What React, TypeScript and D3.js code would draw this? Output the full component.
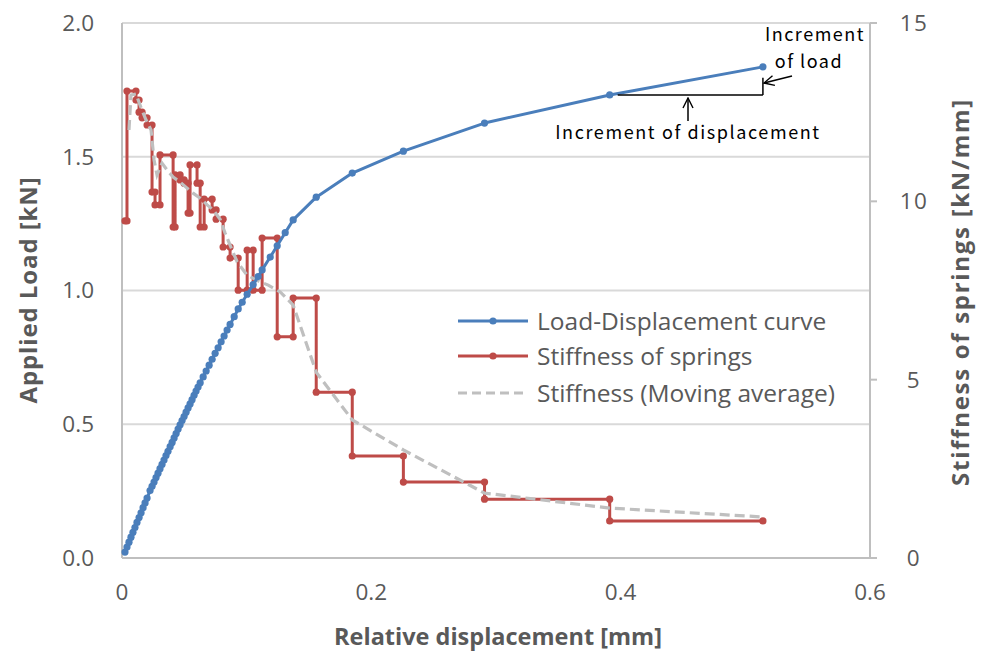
import React from "react";
import * as d3 from "d3";

// Load–displacement curve (mm, kN)
const loadDisp = [0.0024, 0.0040, 0.0056, 0.0072, 0.0088, 0.0104, 0.0120, 0.0137, 0.0153, 0.0169, 0.0185, 0.0201, 0.0225, 0.0241, 0.0257, 0.0273, 0.0289, 0.0305, 0.0321, 0.0337, 0.0353, 0.0369, 0.0386, 0.0402, 0.0418, 0.0434, 0.0450, 0.0466, 0.0482, 0.0498, 0.0514, 0.0530, 0.0546, 0.0562, 0.0578, 0.0594, 0.0610, 0.0627, 0.0651, 0.0675, 0.0699, 0.0723, 0.0747, 0.0771, 0.0795, 0.0819, 0.0843, 0.0867, 0.0900, 0.0932, 0.0964, 0.1004, 0.1052, 0.1092, 0.1124, 0.1189, 0.1245, 0.1309, 0.1373, 0.1558, 0.1847, 0.2257, 0.2908, 0.3912, 0.5141];
const loadVal = [0.022, 0.041, 0.059, 0.078, 0.096, 0.114, 0.133, 0.151, 0.169, 0.188, 0.206, 0.224, 0.252, 0.268, 0.284, 0.301, 0.317, 0.334, 0.350, 0.366, 0.383, 0.399, 0.416, 0.432, 0.449, 0.465, 0.482, 0.498, 0.514, 0.529, 0.545, 0.561, 0.576, 0.592, 0.608, 0.624, 0.639, 0.655, 0.677, 0.699, 0.721, 0.743, 0.765, 0.786, 0.808, 0.830, 0.852, 0.873, 0.902, 0.931, 0.956, 0.986, 1.022, 1.052, 1.077, 1.125, 1.167, 1.216, 1.264, 1.349, 1.439, 1.521, 1.626, 1.731, 1.836];

// Spring stiffness per displacement interval (kN/mm)
const stiffBreaks = [0.0024, 0.0040, 0.0112, 0.0137, 0.0161, 0.0201, 0.0241, 0.0265, 0.0305, 0.0410, 0.0426, 0.0466, 0.0498, 0.0530, 0.0546, 0.0602, 0.0627, 0.0659, 0.0723, 0.0755, 0.0811, 0.0867, 0.0932, 0.1004, 0.1052, 0.1124, 0.1245, 0.1373, 0.1558, 0.1847, 0.2257, 0.2908, 0.3912, 0.5141];
const stiffVals = [9.45, 13.09, 12.84, 12.50, 12.34, 12.14, 10.26, 9.90, 11.30, 9.28, 10.74, 10.60, 10.51, 9.67, 11.02, 10.51, 9.28, 10.06, 9.76, 9.50, 8.72, 8.41, 7.51, 8.63, 7.51, 8.97, 6.20, 7.29, 4.65, 2.86, 2.13, 1.65, 1.04];

// Moving average of the stiffness
const avgDisp = [0.0056, 0.0072, 0.0112, 0.0153, 0.0193, 0.0233, 0.0257, 0.0281, 0.0321, 0.0361, 0.0410, 0.0466, 0.0522, 0.0570, 0.0627, 0.0683, 0.0731, 0.0787, 0.0827, 0.0867, 0.0924, 0.1004, 0.1092, 0.1173, 0.1269, 0.1373, 0.1558, 0.1847, 0.2257, 0.2908, 0.3912, 0.5141];
const avgVal = [12.00, 12.98, 13.01, 12.62, 12.28, 12.00, 11.16, 10.74, 11.07, 10.88, 10.68, 10.54, 10.37, 10.23, 10.09, 9.90, 9.76, 9.50, 9.11, 8.77, 8.30, 7.93, 7.77, 7.65, 7.46, 7.09, 5.21, 3.87, 3.03, 1.82, 1.40, 1.15];

const xTicks = [0, 0.2, 0.4, 0.6];
const xTickLabels = ["0", "0.2", "0.4", "0.6"];
const yLeftTicks = [0, 0.5, 1.0, 1.5, 2.0];
const yRightTicks = [0, 5, 10, 15];

const BLUE = "#4A7EBB";
const RED = "#BE4B48";
const GRAY = "#BFBFBF";
const TEXT = "#595959";
const FONT = "'Open Sans', 'Noto Sans', sans-serif";
const NOTE_FONT = "'Noto Sans CJK JP', 'Noto Sans', sans-serif";

export default function App() {
  const W = 982, H = 652;
  const left = 122, right = 870, top = 23, bottom = 558;
  const x = d3.scaleLinear().domain([0, 0.6]).range([left, right]);
  const yL = d3.scaleLinear().domain([0, 2]).range([bottom, top]);
  const yR = d3.scaleLinear().domain([0, 15]).range([bottom, top]);

  const loadPts: [number, number][] = loadDisp.map((d, i) => [x(d), yL(loadVal[i])]);
  const stiffPts: [number, number][] = [];
  stiffVals.forEach((k, i) => {
    stiffPts.push([x(stiffBreaks[i]), yR(k)]);
    stiffPts.push([x(stiffBreaks[i + 1]), yR(k)]);
  });
  const avgPts: [number, number][] = avgDisp.map((d, i) => [x(d), yR(avgVal[i])]);
  const line = d3.line();

  const legend = [
    { label: "Load-Displacement curve", color: BLUE, dash: null, marker: true, y: 321 },
    { label: "Stiffness of springs", color: RED, dash: null, marker: true, y: 356 },
    { label: "Stiffness (Moving average)", color: GRAY, dash: "9,5", marker: false, y: 393 },
  ];

  // Annotation geometry anchored on the last two load points
  const n = loadDisp.length;
  const pA = loadPts[n - 2];
  const pB = loadPts[n - 1];

  return (
    <svg width={W} height={H} style={{ position: "absolute", left: 0, top: 0, background: "#fff" }}>
      <defs>
        <marker id="open-arrow" viewBox="0 0 12 12" refX="11" refY="6" markerWidth="12" markerHeight="12" markerUnits="userSpaceOnUse" orient="auto">
          <path d="M1,1 L11,6 L1,11" fill="none" stroke="#000" strokeWidth={1.4} />
        </marker>
      </defs>

      {/* gridlines */}
      {yLeftTicks.filter((t) => t > 0).map((t) => (
        <line key={t} x1={left} x2={right} y1={yL(t)} y2={yL(t)} stroke="#D9D9D9" strokeWidth={2} />
      ))}
      {/* axes */}
      <line x1={left} x2={left} y1={top} y2={bottom} stroke={GRAY} strokeWidth={2} />
      <line x1={left} x2={right} y1={bottom} y2={bottom} stroke={GRAY} strokeWidth={2} />
      <line x1={right} x2={right} y1={top} y2={bottom} stroke={GRAY} strokeWidth={2} />
      {yRightTicks.map((t) => (
        <line key={t} x1={right} x2={right + 7} y1={yR(t)} y2={yR(t)} stroke={GRAY} strokeWidth={2} />
      ))}

      {/* tick labels */}
      {yLeftTicks.map((t) => (
        <text key={t} x={94} y={yL(t)} dy="0.35em" textAnchor="end" fontFamily={FONT} fontSize={22.5} fill={TEXT}>
          {t.toFixed(1)}
        </text>
      ))}
      {yRightTicks.map((t) => (
        <text key={t} x={914} y={yR(t)} dy="0.35em" textAnchor="middle" fontFamily={FONT} fontSize={22.5} letterSpacing={1.5} fill={TEXT}>
          {t}
        </text>
      ))}
      {xTicks.map((t, i) => (
        <text key={t} x={x(t)} y={592} dy="0.35em" textAnchor="middle" fontFamily={FONT} fontSize={22.5} fill={TEXT}>
          {xTickLabels[i]}
        </text>
      ))}

      {/* axis titles */}
      <text x={498} y={637} dy="0.35em" textAnchor="middle" fontFamily={FONT} fontWeight="bold" fontSize={23.5} fill={TEXT}>
        Relative displacement [mm]
      </text>
      <text transform="translate(29,290) rotate(-90)" dy="0.35em" textAnchor="middle" fontFamily={FONT} fontWeight="bold" fontSize={24} letterSpacing={0.9} fill={TEXT}>
        Applied Load [kN]
      </text>
      <text transform="translate(961,292) rotate(-90)" dy="0.35em" textAnchor="middle" fontFamily={FONT} fontWeight="bold" fontSize={24} letterSpacing={1.7} fill={TEXT}>
        Stiffness of springs [kN/mm]
      </text>

      {/* stiffness steps */}
      <path d={line(stiffPts) || ""} fill="none" stroke={RED} strokeWidth={3} strokeLinejoin="round" />
      {stiffPts.map((p, i) => (
        <circle key={i} cx={p[0]} cy={p[1]} r={3.6} fill={RED} />
      ))}

      {/* moving average */}
      <path d={line(avgPts) || ""} fill="none" stroke={GRAY} strokeWidth={3.2} strokeDasharray="10,5" />

      {/* load-displacement */}
      <path d={line(loadPts) || ""} fill="none" stroke={BLUE} strokeWidth={3} strokeLinejoin="round" />
      {loadPts.map((p, i) => (
        <circle key={i} cx={p[0]} cy={p[1]} r={3.6} fill={BLUE} />
      ))}

      {/* increment annotation */}
      <line x1={pA[0] + 8} x2={pB[0]} y1={pA[1]} y2={pA[1]} stroke="#000" strokeWidth={1.5} />
      <line x1={pB[0]} x2={pB[0]} y1={pB[1] + 11} y2={pA[1]} stroke="#000" strokeWidth={1.5} />
      <line x1={792} y1={76} x2={764} y2={83} stroke="#000" strokeWidth={1.5} markerEnd="url(#open-arrow)" />
      <line x1={688} y1={121} x2={688} y2={98} stroke="#000" strokeWidth={1.5} markerEnd="url(#open-arrow)" />
      <text x={815} y={35} dy="0.35em" textAnchor="middle" fontFamily={NOTE_FONT} fontSize={18} letterSpacing={1.5} fill="#000">Increment</text>
      <text x={809} y={62} dy="0.35em" textAnchor="middle" fontFamily={NOTE_FONT} fontSize={18} letterSpacing={1.5} fill="#000">of load</text>
      <text x={688} y={133} dy="0.35em" textAnchor="middle" fontFamily={NOTE_FONT} fontSize={18} letterSpacing={1.6} fill="#000">Increment of displacement</text>

      {/* legend */}
      {legend.map((l) => (
        <g key={l.label}>
          <line x1={458} x2={528} y1={l.y} y2={l.y} stroke={l.color} strokeWidth={3} strokeDasharray={l.dash || undefined} />
          {l.marker && <circle cx={493} cy={l.y} r={3.6} fill={l.color} />}
          <text x={537} y={l.y} dy="0.35em" fontFamily={FONT} fontSize={24.5} fill={TEXT}>{l.label}</text>
        </g>
      ))}
    </svg>
  );
}
